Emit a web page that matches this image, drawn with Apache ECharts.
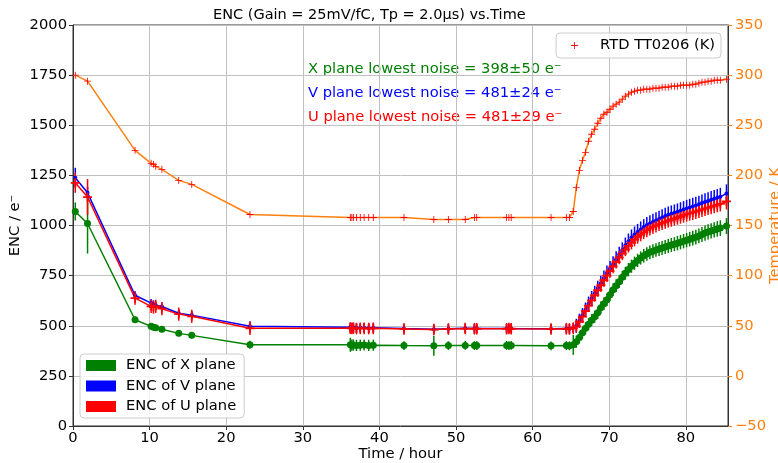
<!DOCTYPE html>
<html>
<head>
<meta charset="utf-8">
<script src="https://cdn.jsdelivr.net/npm/echarts@6/dist/echarts.min.js"></script>
<style>
  html, body { margin: 0; padding: 0; background: #fff; }
  #root { width: 778px; height: 463px; }
</style>
</head>
<body>
<div id="root"></div>
<script>
// time of each measurement (hour)
const times = [
  0.3, 1.9, 8.1, 10.2, 10.5, 10.8, 11.6, 13.8, 15.5, 23.1,
  36.2, 36.4, 36.6, 37.0, 37.5, 38.0, 38.6, 39.2, 43.2, 47.1, 49.0, 51.2, 52.4, 52.7, 56.6, 56.9, 57.2, 62.4, 64.4, 64.8, 65.3,
  65.7, 66.1, 66.5, 66.9, 67.3, 67.7, 68.1, 68.5, 68.9, 69.3,
  69.7, 70.1, 70.5, 70.9, 71.3, 71.7, 72.1, 72.5, 72.9, 73.3,
  73.7, 74.1, 74.5, 74.9, 75.3, 75.7, 76.1, 76.5, 76.9, 77.3,
  77.7, 78.1, 78.5, 78.9, 79.3, 79.7, 80.1, 80.5, 80.9, 81.3,
  81.7, 82.1, 82.5, 82.9, 83.3, 83.7, 84.1, 84.5, 85.3
];
// RTD TT0206 temperature (K)
const tempK = [
  300, 294, 225, 212, 211, 209, 206, 195, 191, 161,
  158, 158, 158, 158, 158, 158, 158, 158, 158, 156, 156, 156, 158, 158, 158, 158, 158, 158, 158, 158, 164,
  188, 205, 215, 223, 234, 241, 246, 252, 257, 261,
  263, 266, 269, 271, 273, 276, 279, 281, 283, 284,
  285, 285, 286, 286, 286, 287, 287, 287, 288, 288,
  288, 289, 289, 289, 290, 290, 290, 290, 291, 291,
  292, 293, 293, 294, 294, 295, 295, 295, 296
];
// ENC X plane
const encX = [
  1070, 1010, 530, 497, 493, 490, 483, 462, 452, 405,
  405, 403, 404, 402, 403, 404, 402, 403, 401, 400, 401, 402, 401, 401, 402, 401, 402, 400, 401, 400, 405,
  420, 442, 465, 487, 508, 528, 545, 565, 590, 610,
  630, 655, 680, 700, 720, 742, 762, 780, 797, 812,
  826, 838, 849, 858, 866, 872, 878, 883, 888, 893,
  898, 903, 907, 912, 917, 922, 927, 932, 937, 942,
  948, 955, 962, 968, 973, 978, 983, 987, 997
];
const errX = [
  45, 150, 15, 15, 15, 15, 15, 15, 15, 20,
  35, 28, 28, 28, 28, 28, 28, 28, 22, 50, 22, 22, 22, 22, 22, 22, 22, 22, 22, 22, 50,
  30, 30, 30, 30, 30, 30, 30, 30, 31, 31,
  31, 31, 32, 32, 32, 32, 32, 33, 33, 33,
  33, 33, 34, 34, 34, 34, 34, 35, 35, 35,
  35, 35, 35, 36, 36, 36, 36, 36, 37, 37,
  37, 37, 38, 38, 38, 38, 39, 39, 40
];
// ENC V plane
const encV = [
  1238, 1163, 652, 613, 607, 602, 596, 562, 553, 497,
  492, 490, 491, 489, 490, 490, 489, 490, 486, 483, 485, 487, 486, 486, 486, 487, 486, 485, 486, 485, 490,
  500, 525, 552, 580, 610, 637, 662, 688, 712, 738,
  763, 785, 808, 832, 855, 877, 900, 920, 940, 955,
  968, 980, 992, 1002, 1010, 1018, 1025, 1032, 1040, 1047,
  1053, 1058, 1063, 1068, 1074, 1080, 1085, 1090, 1095, 1100,
  1106, 1112, 1117, 1122, 1128, 1133, 1138, 1143, 1160
];
const errV = [
  50, 30, 20, 20, 20, 20, 20, 20, 20, 25,
  24, 24, 24, 24, 24, 24, 24, 24, 24, 24, 24, 24, 24, 24, 24, 24, 24, 24, 24, 24, 24,
  35, 35, 36, 36, 36, 37, 37, 37, 38, 38,
  38, 38, 39, 39, 39, 39, 40, 40, 40, 40,
  40, 40, 40, 41, 41, 41, 41, 41, 41, 42,
  42, 42, 42, 42, 42, 42, 43, 43, 43, 43,
  43, 43, 44, 44, 44, 44, 44, 45, 45
];
// ENC U plane
const encU = [
  1213, 1142, 638, 597, 593, 597, 585, 558, 547, 487,
  488, 487, 488, 486, 487, 487, 486, 487, 484, 481, 484, 486, 485, 485, 485, 486, 485, 484, 485, 484, 488,
  497, 520, 546, 573, 600, 627, 652, 677, 702, 727,
  750, 772, 795, 818, 840, 860, 880, 898, 915, 930,
  943, 955, 966, 976, 985, 993, 1000, 1007, 1013, 1019,
  1025, 1030, 1035, 1040, 1045, 1050, 1055, 1060, 1064, 1069,
  1074, 1079, 1084, 1089, 1094, 1099, 1104, 1108, 1120
];
const errU = [
  50, 90, 33, 33, 33, 33, 33, 33, 33, 33,
  29, 29, 29, 29, 29, 29, 29, 29, 29, 29, 29, 29, 29, 29, 29, 29, 29, 29, 29, 29, 29,
  30, 30, 30, 31, 31, 31, 31, 32, 32, 32,
  32, 32, 33, 33, 33, 33, 33, 33, 34, 34,
  34, 34, 34, 34, 35, 35, 35, 35, 35, 35,
  35, 36, 36, 36, 36, 36, 36, 36, 37, 37,
  37, 37, 37, 37, 38, 38, 38, 38, 40
];
const encTicks = [0, 250, 500, 750, 1000, 1250, 1500, 1750, 2000];
const tempTicks = [-50, 0, 50, 100, 150, 200, 250, 300, 350];

const FONT = 'DejaVu Sans';
const FS = 14.7;
const GREEN = '#008000', BLUE = '#0000ff', RED = '#ff0000', ORANGE = '#ff7f0e';
const plusBold = 'path://M-1,-5H1V-1H5V1H1V5H-1V1H-5V-1H-1Z';
const plusThin = 'path://M-0.6,-5H0.6V-0.6H5V0.6H0.6V5H-0.6V0.6H-5V-0.6H-0.6Z';

let root = document.getElementById('root');
let myCharts = echarts.init(root);

function pairs(vals) {
  return times.map((t, i) => [t, vals[i]]);
}
function errData(vals, errs) {
  return times.map((t, i) => [t, vals[i], errs[i]]);
}
function errSeries(name, vals, errs, color) {
  return {
    name: name,
    type: 'custom',
    xAxisIndex: 0,
    yAxisIndex: 0,
    data: errData(vals, errs),
    encode: { x: 0, y: 1 },
    silent: true,
    renderItem: function (params, api) {
      let t = api.value(0), v = api.value(1), e = api.value(2);
      let p1 = api.coord([t, v - e]);
      let p2 = api.coord([t, v + e]);
      return {
        type: 'line',
        shape: { x1: p1[0], y1: p1[1], x2: p2[0], y2: p2[1] },
        style: { stroke: color, lineWidth: 1.5 }
      };
    }
  };
}

let axisText = { color: '#000', fontFamily: FONT, fontSize: FS };
let textFont = FS + 'px "DejaVu Sans"';

let option = {
  animation: false,
  backgroundColor: '#fff',
  title: {
    text: 'ENC (Gain = 25mV/fC, Tp = 2.0μs) vs.Time',
    left: 208,
    top: 3,
    textStyle: { color: '#000', fontFamily: FONT, fontSize: 14.5, fontWeight: 'normal' }
  },
  grid: {
    left: 73, right: 50, top: 25, bottom: 37,
    outerBoundsMode: 'none',
    containLabel: false,
    show: true, borderColor: '#333', borderWidth: 1, backgroundColor: 'transparent'
  },
  legend: [
    {
      data: ['ENC of X plane', 'ENC of V plane', 'ENC of U plane'],
      orient: 'vertical',
      left: 80,
      top: 354,
      icon: 'rect',
      itemWidth: 30,
      itemHeight: 11,
      itemGap: 5.5,
      padding: [4, 8, 4, 6],
      borderColor: '#ccc',
      borderWidth: 1,
      borderRadius: 4,
      backgroundColor: 'rgba(255,255,255,0.8)',
      textStyle: { color: '#000', fontFamily: FONT, fontSize: FS, padding: [0, 0, 0, 5] },
      selectedMode: false
    },
    {
      data: [{ name: 'RTD TT0206 (K)', icon: plusThin, itemStyle: { color: RED } }],
      right: 57,
      top: 33,
      itemWidth: 7,
      itemHeight: 7,
      padding: [5, 6, 5, 15],
      borderColor: '#ccc',
      borderWidth: 1,
      borderRadius: 4,
      backgroundColor: 'rgba(255,255,255,0.8)',
      textStyle: { color: '#000', fontFamily: FONT, fontSize: FS, padding: [0, 0, 0, 17] },
      selectedMode: false
    }
  ],
  xAxis: {
    type: 'value',
    min: 0,
    max: 85.5,
    interval: 10,
    name: 'Time / hour',
    nameLocation: 'middle',
    nameGap: 21,
    nameMoveOverlap: false,
    nameTextStyle: axisText,
    axisLine: { lineStyle: { color: '#333' } },
    axisTick: { show: true, length: 4, lineStyle: { color: '#333' } },
    axisLabel: { color: '#000', fontFamily: FONT, fontSize: FS, margin: 5, showMaxLabel: false },
    splitLine: { show: true, lineStyle: { color: '#c0c0c0', width: 1 } }
  },
  yAxis: [
    {
      type: 'value',
      min: encTicks[0],
      max: encTicks[encTicks.length - 1],
      interval: 250,
      name: 'ENC / e⁻',
      nameLocation: 'middle',
      nameGap: 50,
      nameMoveOverlap: false,
      nameTextStyle: axisText,
      axisLine: { show: true, lineStyle: { color: '#333' } },
      axisTick: { show: true, length: 4, lineStyle: { color: '#333' } },
      axisLabel: { color: '#000', fontFamily: FONT, fontSize: FS, margin: 6, formatter: v => String(v) },
      splitLine: { show: true, lineStyle: { color: '#c0c0c0', width: 1 } }
    },
    {
      type: 'value',
      position: 'right',
      min: tempTicks[0],
      max: tempTicks[tempTicks.length - 1],
      interval: 50,
      name: 'Temperature / K',
      nameLocation: 'middle',
      nameGap: 40,
      nameMoveOverlap: false,
      nameTextStyle: { color: ORANGE, fontFamily: FONT, fontSize: FS },
      axisLine: { show: true, lineStyle: { color: '#333' } },
      axisTick: { show: true, length: 4, lineStyle: { color: ORANGE } },
      axisLabel: {
        color: ORANGE, fontFamily: FONT, fontSize: FS, margin: 7,
        formatter: v => (v < 0 ? '\u2212' + Math.abs(v) : String(v))
      },
      splitLine: { show: false }
    }
  ],
  graphic: [
    { type: 'text', left: 308, top: 62, style: { text: 'X plane lowest noise = 398±50 e⁻', fill: GREEN, font: textFont } },
    { type: 'text', left: 308, top: 86, style: { text: 'V plane lowest noise = 481±24 e⁻', fill: BLUE, font: textFont } },
    { type: 'text', left: 308, top: 110, style: { text: 'U plane lowest noise = 481±29 e⁻', fill: RED, font: textFont } }
  ],
  series: [
    errSeries('errX', encX, errX, GREEN),
    {
      name: 'ENC of X plane',
      type: 'line',
      data: pairs(encX),
      color: GREEN,
      symbol: 'circle',
      symbolSize: 7,
      lineStyle: { color: GREEN, width: 1.5 },
      itemStyle: { color: GREEN }
    },
    errSeries('errV', encV, errV, BLUE),
    {
      name: 'ENC of V plane',
      type: 'line',
      data: pairs(encV),
      color: BLUE,
      symbol: 'circle',
      symbolSize: 4,
      lineStyle: { color: BLUE, width: 1.5 },
      itemStyle: { color: BLUE }
    },
    errSeries('errU', encU, errU, RED),
    {
      name: 'ENC of U plane',
      type: 'line',
      data: pairs(encU),
      color: RED,
      symbol: plusBold,
      symbolSize: 9,
      lineStyle: { color: RED, width: 1.5 },
      itemStyle: { color: RED }
    },
    {
      name: 'RTD TT0206 (K)',
      type: 'line',
      yAxisIndex: 1,
      data: pairs(tempK),
      symbol: plusThin,
      symbolSize: 7,
      lineStyle: { color: ORANGE, width: 1.5 },
      itemStyle: { color: RED }
    }
  ]
};
myCharts.setOption(option);
</script>
</body>
</html>
